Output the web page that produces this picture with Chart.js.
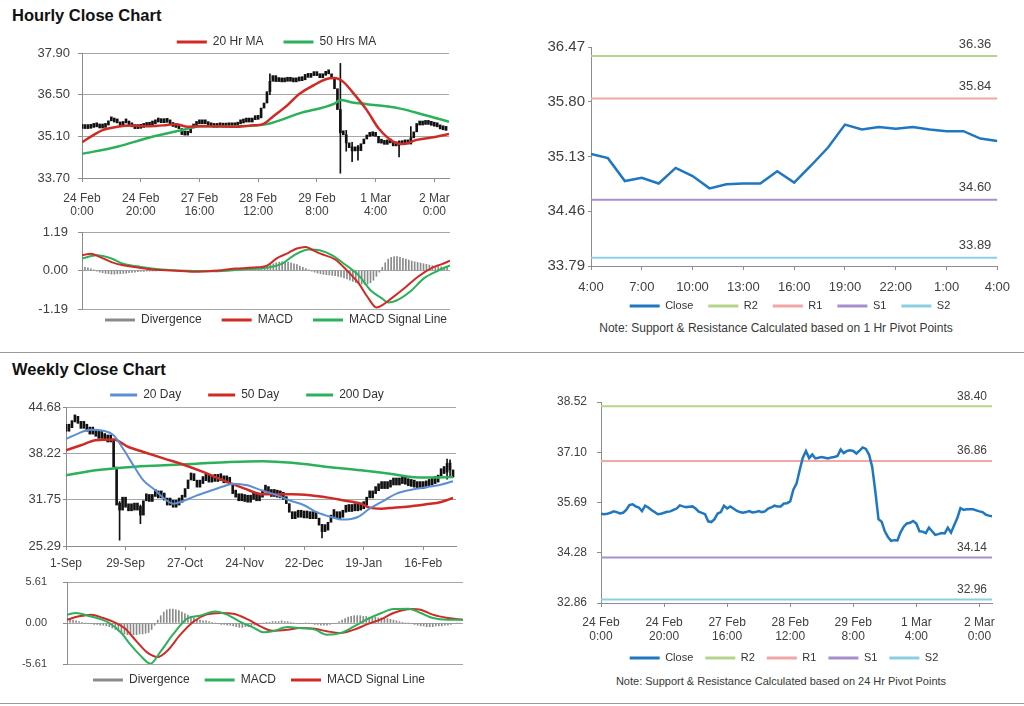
<!DOCTYPE html>
<html>
<head>
<meta charset="utf-8">
<title>Hourly / Weekly Close Chart</title>
<script src="https://cdn.jsdelivr.net/npm/chart.js@4.4.1/dist/chart.umd.min.js"></script>
<style>
  body { margin: 0; background: #fff; font-family: "Liberation Sans", Arial, sans-serif; }
  #page { position: relative; width: 1024px; height: 706px; overflow: hidden; }
  canvas { position: absolute; }
  .title { position: absolute; left: 12px; font-weight: bold; font-size: 16.5px; line-height: 16px; color: #111; }
  .rule { position: absolute; left: 0; width: 1024px; height: 1px; background: #9a9a9a; }
  .note { position: absolute; text-align: center; color: #383838; line-height: 14px; white-space: nowrap; }
</style>
</head>
<body>
<div id="page">
  <div class="title" style="top:7px">Hourly Close Chart</div>
  <canvas id="hrPrice" width="470" height="200" style="left:0;top:28px"></canvas>
  <canvas id="hrMacd" width="470" height="110" style="left:0;top:224px"></canvas>
  <canvas id="hrPivot" width="500" height="290" style="left:520px;top:30px"></canvas>
  <div class="note" style="left:520px;width:512px;top:321px;font-size:12px">Note: Support &amp; Resistance Calculated based on 1 Hr Pivot Points</div>
  <div class="rule" style="top:352px"></div>

  <div class="title" style="top:361px">Weekly Close Chart</div>
  <canvas id="wkPrice" width="470" height="195" style="left:0;top:380px"></canvas>
  <canvas id="wkMacd" width="480" height="118" style="left:0;top:575px"></canvas>
  <canvas id="wkPivot" width="500" height="285" style="left:520px;top:385px"></canvas>
  <div class="note" style="left:530px;width:502px;top:674px;font-size:11px">Note: Support &amp; Resistance Calculated based on 24 Hr Pivot Points</div>
  <div class="rule" style="top:703px"></div>
</div>

<script>
// ---------- data ----------

// hourly closes, 24 Feb 0:00 -> 2 Mar ~4:00 (one per trading hour)
const hourlyClose = [
  35.37, 35.36, 35.37, 35.40, 35.44, 35.42, 35.38, 35.40, 35.48, 35.62,
  35.64, 35.58, 35.55, 35.45, 35.60, 35.55, 35.48, 35.42, 35.36, 35.37,
  35.40, 35.43, 35.44, 35.48, 35.52, 35.61, 35.58, 35.56, 35.57, 35.58,
  35.52, 35.43, 35.40, 35.36, 35.16, 35.14, 35.22, 35.38, 35.42, 35.60,
  35.52, 35.58, 35.52, 35.46, 35.42, 35.40, 35.42, 35.45, 35.41, 35.42,
  35.45, 35.42, 35.44, 35.52, 35.55, 35.60, 35.58, 35.58, 35.66, 35.67,
  35.72, 36.05, 36.22, 36.60, 36.95, 37.14, 36.94, 37.04, 36.93, 36.95,
  36.97, 36.95, 36.93, 36.96, 36.97, 37.00, 37.18, 37.08, 37.14, 37.16,
  37.14, 37.07, 37.15, 37.24, 37.20, 37.04, 36.70, 36.00, 35.22, 35.15,
  34.88, 34.72, 34.61, 34.63, 34.62, 34.85, 35.01, 35.10, 35.12, 35.17,
  35.10, 34.88, 34.87, 34.83, 34.98, 34.88, 34.78, 34.80, 34.83, 34.82,
  34.98, 34.84, 35.05, 35.25, 35.53, 35.48, 35.50, 35.50, 35.50, 35.47,
  35.44, 35.42, 35.35, 35.32, 35.30
];
// long hourly wicks: [hour index, low, high]
const hourlyWicks = [
  [64, 36.50, 37.20], [88, 33.86, 37.55], [90, 34.60, 35.30], [92, 34.25, 34.90],
  [94, 34.30, 34.80], [108, 34.41, 34.95], [112, 34.85, 35.43]
];
// moving averages: [hour index, value]
const ma20Hr = [
  [0, 34.90], [4, 35.15], [7, 35.31], [12, 35.42], [17, 35.46], [23, 35.44], [29, 35.48],
  [32, 35.51], [36, 35.42], [40, 35.44], [46, 35.44], [52, 35.42], [57, 35.46], [62, 35.53],
  [65, 35.76], [70, 36.15], [74, 36.52], [79, 36.82], [83, 37.02], [86, 37.06], [89, 36.93],
  [92, 36.60], [97, 35.98], [101, 35.37], [106, 34.92], [109, 34.84], [114, 34.98],
  [119, 35.06], [125, 35.18]
];
const ma50Hr = [
  [0, 34.51], [12, 34.75], [23, 35.06], [35, 35.33], [40, 35.44], [52, 35.44], [63, 35.51],
  [74, 35.87], [86, 36.20], [88, 36.32], [92, 36.24], [97, 36.18], [108, 36.04],
  [117, 35.81], [125, 35.59]
];
const macdHr = [
  [0, 0.47], [3, 0.52], [6, 0.42], [10, 0.26], [14, 0.16], [19, 0.09], [24, 0.03], [31, 0.00],
  [38, -0.04], [45, -0.01], [52, 0.06], [58, 0.09], [63, 0.16], [66, 0.37], [70, 0.54],
  [73, 0.68], [76, 0.73], [78, 0.65], [81, 0.52], [86, 0.34], [90, 0.00], [94, -0.40],
  [97, -0.82], [100, -1.14], [102, -1.07], [105, -0.87], [110, -0.51], [114, -0.20],
  [119, 0.09], [122, 0.19], [125, 0.30]
];
const signalHr = [
  [0, 0.37], [5, 0.47], [10, 0.37], [14, 0.21], [20, 0.11], [27, 0.03], [36, -0.01],
  [45, -0.02], [54, 0.03], [63, 0.09], [68, 0.21], [72, 0.47], [77, 0.65], [81, 0.62],
  [85, 0.47], [89, 0.21], [94, -0.15], [98, -0.61], [102, -0.87], [104, -0.99],
  [107, -0.92], [112, -0.61], [116, -0.25], [121, 0.00], [125, 0.16]
];
const divergenceHr = [
  0.12, 0.1, 0.08, 0.05, 0.02, -0.02, -0.05, -0.07, -0.09, -0.1,
  -0.11, -0.11, -0.1, -0.1, -0.09, -0.08, -0.07, -0.06, -0.05, -0.04,
  -0.03, -0.03, -0.02, -0.02, -0.01, -0.01, 0, 0, 0, 0,
  0, -0.01, -0.01, -0.02, -0.02, -0.03, -0.03, -0.03, -0.02, -0.02,
  -0.01, -0.01, 0, 0, 0.01, 0.01, 0.02, 0.02, 0.02, 0.03,
  0.03, 0.03, 0.03, 0.03, 0.03, 0.03, 0.04, 0.04, 0.05, 0.06,
  0.08, 0.1, 0.12, 0.15, 0.18, 0.21, 0.24, 0.26, 0.27, 0.27,
  0.26, 0.24, 0.21, 0.18, 0.14, 0.1, 0.06, 0.02, -0.02, -0.05,
  -0.08, -0.1, -0.12, -0.13, -0.14, -0.15, -0.16, -0.18, -0.2, -0.23,
  -0.26, -0.3, -0.34, -0.37, -0.4, -0.42, -0.43, -0.42, -0.38, -0.3,
  -0.18, -0.05, 0.1, 0.24, 0.35, 0.41, 0.43, 0.43, 0.41, 0.38,
  0.35, 0.32, 0.29, 0.27, 0.25, 0.23, 0.21, 0.19, 0.17, 0.15,
  0.13, 0.12, 0.11, 0.1, 0.1
];
const hourTickLabels = [
  ['24 Feb', '0:00'], ['24 Feb', '20:00'], ['27 Feb', '16:00'], ['28 Feb', '12:00'],
  ['29 Feb', '8:00'], ['1 Mar', '4:00'], ['2 Mar', '0:00']
];

// last 24 hours, 4:00 -> 4:00
const lastDayClose = [
  35.16, 35.11, 34.83, 34.87, 34.80, 34.99, 34.89, 34.74, 34.79, 34.80, 34.80, 34.95, 34.81,
  35.02, 35.24, 35.52, 35.46, 35.49, 35.47, 35.49, 35.46, 35.44, 35.44, 35.35, 35.32
];
const lastDayTickLabels = ['4:00', '7:00', '10:00', '13:00', '16:00', '19:00', '22:00', '1:00', '4:00'];

// pivot levels R2, R1, S1, S2
const levelNames = ['R2', 'R1', 'S1', 'S2'];
const hrLevels = [36.36, 35.84, 34.60, 33.89];
const wkLevels = [38.40, 36.86, 34.14, 32.96];

// daily closes, 1 Sep -> end Feb
const dailyClose = [
  41.3, 41.8, 42.6, 43.0, 42.4, 41.7, 42.2, 41.3, 40.9, 41.0,
  40.6, 40.3, 40.5, 40.0, 39.8, 40.2, 36.3, 31.0, 30.3, 32.1,
  30.7, 30.2, 30.6, 30.3, 30.8, 29.6, 31.6, 31.9, 31.5, 32.2,
  32.4, 32.0, 32.3, 31.7, 31.0, 31.3, 30.7, 31.0, 31.4, 32.1,
  33.3, 34.5, 35.2, 34.4, 33.5, 34.0, 34.6, 34.4, 34.2, 34.7,
  34.3, 34.7, 34.4, 34.1, 34.5, 33.9, 32.6, 32.1, 31.6, 31.9,
  31.5, 31.4, 31.8, 31.9, 31.6, 32.1, 33.0, 32.8, 32.6, 32.2,
  32.4, 32.1, 32.0, 31.8, 31.2, 30.0, 29.1, 29.6, 29.3, 29.4,
  29.2, 29.5, 29.1, 29.3, 29.1, 28.2, 27.3, 27.5, 28.6, 29.6,
  29.4, 29.1, 29.3, 30.0, 30.3, 30.1, 30.3, 30.2, 30.3, 30.5,
  31.0, 32.1, 32.0, 32.6, 33.0, 33.3, 33.5, 33.3, 33.5, 33.8,
  34.0, 33.8, 34.0, 34.2, 33.9, 33.7, 33.6, 33.5, 33.3, 33.3,
  33.4, 33.6, 33.8, 34.0, 34.2, 35.1, 35.4, 35.6, 36.8, 35.9,
  34.9
];
const dailyWicks = [[18, 26.1, 31.5], [25, 28.4, 31.0], [86, 26.4, 28.3], [128, 34.6, 37.4], [129, 35.0, 37.3]];
const ma20Day = [
  [0, 40.2], [4, 40.97], [8, 41.5], [13, 41.34], [16, 40.73], [19.5, 38.64], [23, 36.3],
  [26, 34.45], [30, 33.06], [33, 31.9], [36, 31.2], [40, 31.67], [44, 32.36], [49, 33.06],
  [53, 33.62], [56, 33.99], [61, 33.76], [65, 33.15], [71, 32.36], [75, 31.67], [80, 30.97],
  [84, 30.04], [89, 29.34], [93, 28.97], [98, 29.34], [102, 30.5], [107, 31.67], [111, 32.6],
  [116, 33.15], [120, 33.43], [125, 33.76], [130, 34.32]
];
const ma50Day = [
  [0, 38.64], [5, 39.34], [10, 40.04], [16, 40.13], [21, 39.1], [26, 38.41], [33, 37.48],
  [40, 36.55], [46, 35.62], [53, 34.4], [60, 33.3], [66, 32.5], [72, 32.5], [76, 32.5],
  [82, 32.36], [88, 32.04], [93, 31.67], [99, 31.2], [102, 30.64], [106, 30.5], [110, 30.64],
  [116, 30.83], [121, 31.1], [126, 31.43], [130, 31.99]
];
const ma200Day = [
  [0, 35.15], [10, 35.85], [22, 36.32], [33, 36.55], [44, 36.78], [55, 37.01], [66, 37.12],
  [76, 36.9], [88, 36.32], [99, 35.85], [110, 35.29], [116, 34.92], [121, 34.83], [130, 34.92]
];
const macdWk = [
  [0, 1.14], [3, 1.37], [7, 1.0], [11, 0.54], [14, 0.0], [18, -1.37], [21, -2.97], [24, -4.33],
  [27.6, -5.57], [31, -3.88], [35, -1.6], [40, 0.68], [44, 1.0], [49, 1.59], [53, 1.14],
  [57, 0.23], [62, -0.69], [65, -1.28], [68, -1.14], [73, -0.55], [77, -0.69], [82, -0.91],
  [86, -1.6], [90.5, -1.37], [95, -0.46], [99, 0.45], [104, 1.37], [108, 1.91], [113, 1.96],
  [117, 1.37], [121, 0.68], [126, 0.45], [131, 0.45]
];
const signalWk = [
  [0, 0.45], [4, 0.91], [8, 1.14], [12, 0.68], [15, 0.23], [19, -0.69], [23, -2.51],
  [26.5, -4.02], [30, -4.65], [33, -3.88], [37.5, -1.6], [42, 0.23], [46, 1.14], [51, 1.37],
  [55, 1.27], [60, 0.45], [64, -0.46], [68, -1.05], [73, -0.91], [77, -0.69], [82, -0.78],
  [86, -1.14], [90.5, -1.37], [95, -0.91], [99, -0.23], [104, 0.54], [108, 1.37], [114, 1.91],
  [117, 1.82], [121, 1.14], [126, 0.68], [131, 0.45]
];
const divergenceWk = [
  0.5, 0.5, 0.4, 0.3, 0.2, 0.1, 0, -0.1, -0.1, -0.2,
  -0.2, -0.3, -0.3, -0.4, -0.5, -0.7, -0.9, -1.1, -1.3, -1.5,
  -1.6, -1.6, -1.6, -1.6, -1.5, -1.5, -1.4, -1.3, -0.9, -0.3,
  0.4, 1.0, 1.5, 1.8, 1.9, 1.9, 1.8, 1.7, 1.5, 1.3,
  1.1, 0.9, 0.7, 0.5, 0.4, 0.3, 0.3, 0.2, 0.1, 0,
  -0.1, -0.2, -0.2, -0.3, -0.3, -0.4, -0.5, -0.6, -0.6, -0.5,
  -0.5, -0.4, -0.3, -0.2, -0.1, 0, 0.1, 0.1, 0.2, 0.2,
  0.2, 0.3, 0.2, 0.2, 0.1, 0, -0.1, -0.1, -0.1, 0,
  0, -0.1, -0.2, -0.2, -0.3, -0.3, -0.3, -0.2, -0.1, 0,
  0.2, 0.4, 0.6, 0.8, 0.9, 1.0, 1.0, 1.0, 0.9, 0.9,
  0.8, 0.8, 0.8, 0.7, 0.7, 0.6, 0.6, 0.5, 0.4, 0.3,
  0.2, 0.1, 0, 0, -0.1, -0.2, -0.3, -0.4, -0.4, -0.5,
  -0.5, -0.5, -0.4, -0.4, -0.4, -0.3, -0.3, -0.2, -0.1, 0,
  0
];
const dayTickLabels = ['1-Sep', '29-Sep', '27-Oct', '24-Nov', '22-Dec', '19-Jan', '16-Feb'];

// y-axis ticks for each panel
const hrPriceTicks = [33.70, 35.10, 36.50, 37.90];
const hrMacdTicks = [-1.19, 0, 1.19];
const hrPivotTicks = [33.79, 34.46, 35.13, 35.80, 36.47];
const wkPriceTicks = [25.29, 31.75, 38.22, 44.68];
const wkMacdTicks = [-5.61, 0, 5.61];
const wkPivotTicks = [32.86, 34.28, 35.69, 37.10, 38.52];

// ---------- styling ----------
const FONT = '"Liberation Sans", Arial, sans-serif';
const RED = '#d02a25';
const GREEN = '#2bb159';
const BLUE = '#5a8fd5';
const CLOSE_BLUE = '#1f77c1';
const BLACK = '#111111';
const DIV_GRAY = '#8a8a8a';
const levelColors = ['#b3d58a', '#f2a6a6', '#a68fcb', '#8dcfe2'];

Chart.defaults.font.family = FONT;
Chart.defaults.color = '#404040';
Chart.defaults.animation = false;

// squeeze / move the legend box so it sits where the original one does
const legendTweak = {
  id: 'legendTweak',
  beforeInit(chart, args, opts) {
    const legend = chart.legend;
    if (!legend) return;
    const fit = legend.fit;
    legend.fit = function () {
      fit.call(this);
      if (opts.height != null) this.height = opts.height;
    };
  },
  afterLayout(chart, args, opts) {
    const legend = chart.legend;
    if (!legend) return;
    const dx = opts.dx || 0;
    const dy = opts.dy || 0;
    legend.left += dx;
    legend.right += dx;
    // legend is clipped to its box, so only ever grow the box
    legend.top += dy;
    legend.bottom = Math.max(legend.bottom, legend.bottom + dy);
  },
};

// value printed above each pivot line
const levelLabels = {
  id: 'levelLabels',
  afterDatasetsDraw(chart, args, opts) {
    if (!opts.values) return;
    const { ctx, chartArea, scales } = chart;
    ctx.save();
    ctx.font = `${opts.size}px ${FONT}`;
    ctx.fillStyle = '#404040';
    ctx.textAlign = 'right';
    ctx.textBaseline = 'middle';
    opts.values.forEach((v) => {
      ctx.fillText(v.toFixed(2), chartArea.right - opts.inset, scales.y.getPixelForValue(v) - opts.lift);
    });
    ctx.restore();
  },
};
Chart.register(legendTweak, levelLabels);

const pts = (arr) => arr.map(([x, y]) => ({ x, y }));

const lineSet = (label, data, color, width, smooth = true) => ({
  label, data, borderColor: color, backgroundColor: color, borderWidth: width,
  pointRadius: 0, fill: false, order: 0,
  cubicInterpolationMode: smooth ? 'monotone' : 'default', tension: 0,
});

// price bars drawn from previous close to close, plus the long wicks
const barSets = (closes, wicks, minLen) => ([
  {
    type: 'bar', noLegend: true, order: 3, grouped: false, barThickness: 2, minBarLength: minLen,
    backgroundColor: BLACK, borderWidth: 0,
    data: closes.map((c, i) => ({ x: i, y: [i ? closes[i - 1] : c, c] })),
  },
  {
    type: 'bar', noLegend: true, order: 3, grouped: false, barThickness: 1,
    backgroundColor: BLACK, borderWidth: 0,
    data: wicks.map(([x, lo, hi]) => ({ x, y: [lo, hi] })),
  },
]);

const divergenceSet = (values) => ({
  type: 'bar', label: 'Divergence', order: 3, grouped: false, barThickness: 1,
  backgroundColor: DIV_GRAY, borderColor: DIV_GRAY, borderWidth: 0,
  data: values.map((v, i) => ({ x: i, y: v })),
});

const levelSets = (values, max) => values.map((v, i) => ({
  label: levelNames[i], data: [{ x: 0, y: v }, { x: max, y: v }],
  borderColor: levelColors[i], backgroundColor: levelColors[i], borderWidth: 2, pointRadius: 0, order: 1,
}));

const legend = (o) => ({
  position: o.pos,
  labels: {
    boxWidth: o.box || 30, boxHeight: 3, padding: o.pad, color: '#333',
    font: { size: o.size || 12 },
    filter: (item, data) => !data.datasets[item.datasetIndex].noLegend,
    sort: (a, b) => a.datasetIndex - b.datasetIndex,
    generateLabels: (chart) => Chart.defaults.plugins.legend.labels.generateLabels(chart)
      .map((it) => ({ ...it, fillStyle: it.strokeStyle, lineWidth: 0 })),
  },
});

const yAxis = (ticks, o) => ({
  min: ticks[0], max: ticks[ticks.length - 1],
  afterBuildTicks: (s) => { s.ticks = ticks.map((v) => ({ value: v })); },
  afterFit: (s) => {
    s.width = o.width;
    // keep the tick labels from pushing the plot area around
    s.paddingTop = 0;
    s.paddingBottom = 0;
  },
  ticks: { callback: (v) => Number(v).toFixed(2), padding: o.pad, font: { size: o.size }, color: '#404040' },
  grid: { drawOnChartArea: o.grid, color: '#a6a6a6', tickLength: o.tick, tickColor: '#8c8c8c' },
  border: { color: '#8c8c8c' },
});

const xAxis = (max, step, labels, o) => ({
  type: 'linear', min: 0, max, offset: false, display: o.display !== false,
  afterBuildTicks: (s) => { s.ticks = labels.map((_, i) => ({ value: i * step })); },
  afterFit: (s) => { if (o.height != null) s.height = o.height; },
  ticks: {
    autoSkip: false, maxRotation: 0, minRotation: 0, padding: o.pad || 3, color: '#404040',
    font: { size: o.size || 12, lineHeight: o.lh || 1.1 },
    callback: (v) => labels[Math.round(v / step)],
  },
  grid: { drawOnChartArea: false, offset: false, tickLength: 4, color: '#8c8c8c' },
  border: { color: '#8c8c8c' },
});

const options = (o) => ({
  responsive: false,
  animation: false,
  layout: { padding: o.padding },
  scales: o.scales,
  plugins: {
    legend: o.legend,
    legendTweak: o.tweak,
    levelLabels: o.levels || {},
    tooltip: { enabled: false },
  },
});

// ---------- hourly close chart ----------
new Chart(document.getElementById('hrPrice'), {
  type: 'line',
  data: {
    datasets: [
      lineSet('20 Hr MA', pts(ma20Hr), RED, 2.5),
      lineSet('50 Hrs MA', pts(ma50Hr), GREEN, 2.5),
      ...barSets(hourlyClose, hourlyWicks, 4),
    ],
  },
  options: options({
    padding: { left: 10, right: 21, top: 0, bottom: 0 },
    legend: legend({ pos: 'top', pad: 20 }),
    tweak: { height: 25, dx: 47, dy: -12 },
    scales: {
      x: xAxis(125, 20, hourTickLabels, { height: 50, pad: 10, size: 12 }),
      y: yAxis(hrPriceTicks, { width: 72, pad: 8, tick: 4, size: 13, grid: true }),
    },
  }),
});

new Chart(document.getElementById('hrMacd'), {
  type: 'line',
  data: {
    datasets: [
      divergenceSet(divergenceHr),
      lineSet('MACD', pts(macdHr), RED, 2),
      lineSet('MACD Signal Line', pts(signalHr), GREEN, 2),
    ],
  },
  options: options({
    padding: { left: 10, right: 20, top: 8, bottom: 0 },
    legend: legend({ pos: 'bottom', pad: 20 }),
    tweak: { height: 25, dx: 46, dy: -15 },
    scales: {
      x: xAxis(125, 20, hourTickLabels, { display: false }),
      y: yAxis(hrMacdTicks, { width: 72, pad: 10, tick: 4, size: 13, grid: true }),
    },
  }),
});

new Chart(document.getElementById('hrPivot'), {
  type: 'line',
  data: {
    datasets: [
      lineSet('Close', lastDayClose.map((y, x) => ({ x, y })), CLOSE_BLUE, 2.5, false),
      ...levelSets(hrLevels, lastDayClose.length - 1),
    ],
  },
  options: options({
    padding: { left: 0, right: 22, top: 17, bottom: 0 },
    legend: legend({ pos: 'bottom', pad: 15, size: 11 }),
    tweak: { height: 28, dx: 31, dy: -6.5 },
    levels: { values: hrLevels, size: 13, inset: 6, lift: 12 },
    scales: {
      x: xAxis(lastDayClose.length - 1, 3, lastDayTickLabels, { height: 26, pad: 10, size: 13 }),
      y: yAxis(hrPivotTicks, { width: 71, pad: 3, tick: 3, size: 15, grid: false }),
    },
  }),
});

// ---------- weekly close chart ----------
new Chart(document.getElementById('wkPrice'), {
  type: 'line',
  data: {
    datasets: [
      lineSet('20 Day', pts(ma20Day), BLUE, 2),
      lineSet('50 Day', pts(ma50Day), RED, 2.5),
      lineSet('200 Day', pts(ma200Day), GREEN, 2.5),
      ...barSets(dailyClose, dailyWicks, 7),
    ],
  },
  options: options({
    padding: { left: 6, right: 14, top: 0, bottom: 0 },
    legend: legend({ pos: 'top', pad: 27, box: 27 }),
    tweak: { height: 27, dx: 16, dy: -18 },
    scales: {
      x: xAxis(131, 20, dayTickLabels, { height: 29, pad: 7, size: 12 }),
      y: yAxis(wkPriceTicks, { width: 60, pad: 2, tick: 3, size: 13, grid: true }),
    },
  }),
});

new Chart(document.getElementById('wkMacd'), {
  type: 'line',
  data: {
    datasets: [
      divergenceSet(divergenceWk),
      lineSet('MACD', pts(macdWk), GREEN, 2),
      lineSet('MACD Signal Line', pts(signalWk), RED, 2),
    ],
  },
  options: options({
    padding: { left: 7, right: 17, top: 7, bottom: 0 },
    legend: legend({ pos: 'bottom', pad: 15 }),
    tweak: { height: 29, dx: 24, dy: -5 },
    scales: {
      x: xAxis(131, 20, dayTickLabels, { display: false }),
      y: yAxis(wkMacdTicks, { width: 60, pad: 16, tick: 4, size: 11, grid: true }),
    },
  }),
});

new Chart(document.getElementById('wkPivot'), {
  type: 'line',
  data: {
    datasets: [
      lineSet('Close', hourlyClose.map((y, x) => ({ x, y })), CLOSE_BLUE, 2.5, false),
      ...levelSets(wkLevels, hourlyClose.length - 1),
    ],
  },
  options: options({
    padding: { left: 0, right: 28, top: 17, bottom: 0 },
    legend: legend({ pos: 'bottom', pad: 12, size: 11 }),
    tweak: { height: 25, dx: 28, dy: -4.5 },
    levels: { values: wkLevels, size: 12, inset: 5, lift: 10 },
    scales: {
      x: xAxis(hourlyClose.length - 1, 20, hourTickLabels, { height: 42, pad: 8, size: 12, lh: 1.2 }),
      y: yAxis(wkPivotTicks, { width: 81, pad: 10, tick: 4, size: 12, grid: false }),
    },
  }),
});
</script>
</body>
</html>
